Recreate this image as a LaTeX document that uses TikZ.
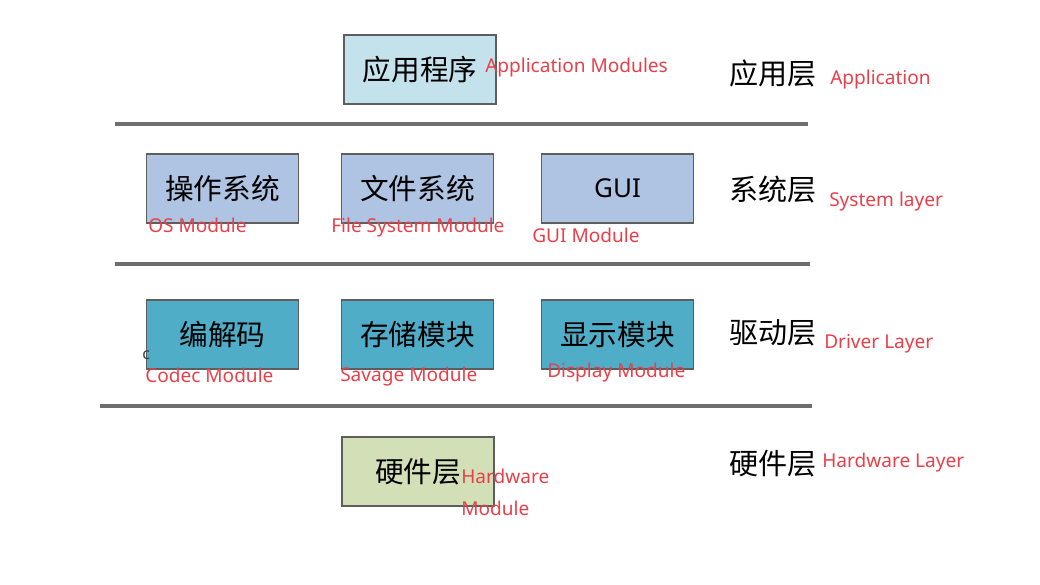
\documentclass[tikz,border=0pt]{standalone}
\usepackage{fontspec}
\setmainfont{Noto Sans}
\newfontfamily\cjk{Noto Sans CJK SC}
\newfontfamily\lab{Noto Sans}
\definecolor{appfill}{HTML}{C4E2EC}
\definecolor{sysfill}{HTML}{AFC4E3}
\definecolor{drvfill}{HTML}{4FADC7}
\definecolor{hwfill}{HTML}{D3E0B7}
\definecolor{boxline}{HTML}{5E5E5E}
\definecolor{sepline}{HTML}{6E6E6E}
\definecolor{redlab}{HTML}{E8404A}
\tikzset{
  modbox/.style={draw=boxline, line width=1.4pt, minimum width=114pt, minimum height=51.5pt, inner sep=0pt, font=\cjk\fontsize{21.5}{23}\selectfont},
  sep/.style={draw=sepline, line width=2.4pt},
  layer/.style={anchor=west, inner sep=0pt, font=\cjk\fontsize{21.8}{23}\selectfont},
  red/.style={anchor=west, inner sep=0pt, text=redlab, font=\lab\fontsize{14.3}{16}\selectfont}
}
\begin{document}
\begin{tikzpicture}[x=0.75pt,y=-0.75pt]
\useasboundingbox (0,0) rectangle (1040,585);
% boxes
\node[modbox, fill=appfill] (app) at (420,69.5) {应用程序};
\node[modbox, fill=sysfill] (os) at (222.5,188.5) {操作系统};
\node[modbox, fill=sysfill] (fs) at (417.5,188.5) {文件系统};
\node[modbox, fill=sysfill, font=\lab\fontsize{19.5}{22}\selectfont] (gui) at (617.5,188.5) {GUI};
\node[modbox, fill=drvfill] (codec) at (222.5,334.5) {编解码};
\node[modbox, fill=drvfill] (store) at (417.5,334.5) {存储模块};
\node[modbox, fill=drvfill] (disp) at (617.5,334.5) {显示模块};
\node[modbox, fill=hwfill] (hw) at (418,471.5) {硬件层};
% separators
\coordinate (s1a) at (115,124); \coordinate (s1b) at (808,124);
\coordinate (s2a) at (115,264); \coordinate (s2b) at (810,264);
\coordinate (s3a) at (100,406); \coordinate (s3b) at (812,406);
\draw[sep] (s1a) -- (s1b);
\draw[sep] (s2a) -- (s2b);
\draw[sep] (s3a) -- (s3b);
% layer names
\node[layer] (l1) at (729,73) {应用层};
\node[layer] (l2) at (729,190) {系统层};
\node[layer] (l3) at (729,333) {驱动层};
\node[layer] (l4) at (729,464) {硬件层};
% red labels
\node[red] (t1) at (485,68) {Application Modules};
\node[red] (t2) at (830,80) {Application};
\node[red] (t3) at (148,225) {OS Module};
\node[red] (t4) at (331,228) {File System Module};
\node[red] (t5) at (532,235) {GUI Module};
\node[red] (t6) at (829,202) {System layer};
\node[red] (t7) at (145,375) {Codec Module};
\node[red] (t8) at (340,377) {Savage Module};
\node[red] (t9) at (547,373) {Display Module};
\node[red] (t10) at (824,344) {Driver Layer};
\node[red] (t11) at (461,476) {Hardware};
\node[red] (t12) at (461,508) {Module};
\node[red] (t13) at (822,463) {Hardware Layer};
\node[anchor=west, inner sep=0pt, text=black!75, font=\lab\fontsize{12}{13}\selectfont] (cc) at (142,355) {c};
\end{tikzpicture}
\end{document}
